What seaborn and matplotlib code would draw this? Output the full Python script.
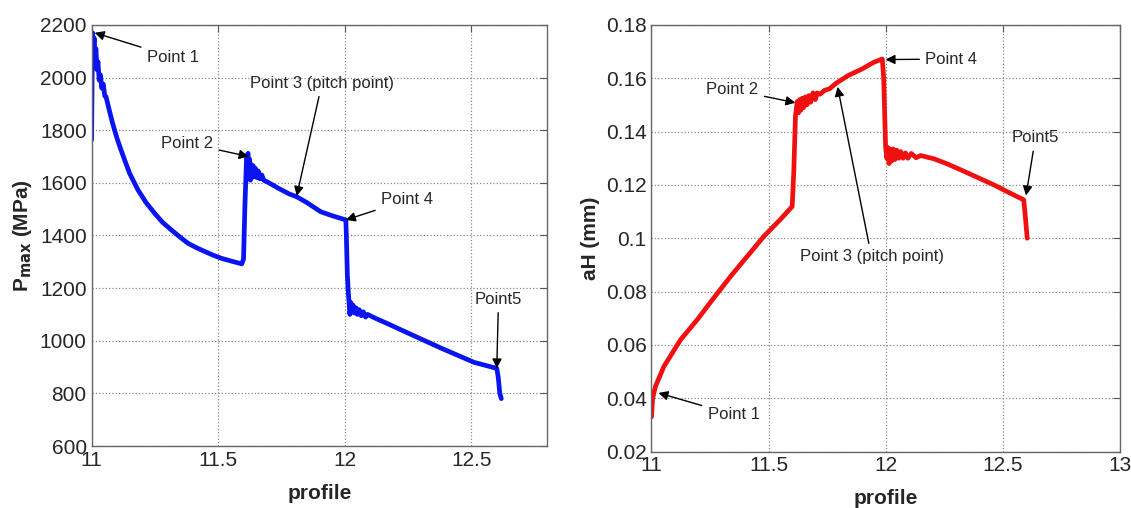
import matplotlib
matplotlib.use("Agg")
import matplotlib.pyplot as plt
import seaborn as sns
import pandas as pd

# contact pressure along the profile (left panel)
p_x = [11.000, 11.002, 11.004, 11.007, 11.010, 11.013, 11.017, 11.021, 11.025, 11.030,
       11.035, 11.040, 11.046, 11.052, 11.057, 11.070, 11.083, 11.10, 11.116, 11.133,
       11.15, 11.183, 11.215, 11.249, 11.28, 11.315, 11.35, 11.381, 11.415, 11.447,
       11.48, 11.513, 11.55, 11.593, 11.600, 11.605, 11.612, 11.618,
       11.621, 11.624, 11.627, 11.630, 11.634, 11.638, 11.642, 11.647, 11.652, 11.658,
       11.665, 11.672, 11.68, 11.70, 11.74, 11.78, 11.81, 11.85, 11.905, 11.95,
       12.004, 12.006, 12.010, 12.014, 12.017, 12.020, 12.024, 12.028, 12.033, 12.038,
       12.044, 12.050, 12.057, 12.065, 12.073, 12.082, 12.09, 12.115, 12.18, 12.25,
       12.38, 12.51, 12.60, 12.606, 12.612, 12.618]
p_max = [1763, 2000, 2170, 2110, 2150, 2080, 2110, 2030, 2060, 1990,
         2010, 1960, 1975, 1930, 1927, 1875, 1826, 1770, 1725, 1680,
         1636, 1573, 1525, 1484, 1450, 1421, 1393, 1370, 1353, 1339,
         1325, 1313, 1303, 1292, 1310, 1500, 1700, 1712,
         1620, 1690, 1610, 1670, 1620, 1665, 1625, 1655, 1620, 1645,
         1615, 1630, 1610, 1600, 1578, 1558, 1547, 1525, 1490, 1475,
         1459, 1400, 1250, 1180, 1142, 1100, 1145, 1110, 1135, 1105,
         1125, 1100, 1118, 1095, 1110, 1090, 1100, 1088, 1060, 1029,
         972, 918, 895, 860, 800, 780]

# half width of contact band (right panel)
a_x = [11.000, 11.005, 11.017, 11.053, 11.124, 11.195, 11.266, 11.338, 11.409, 11.48,
       11.55, 11.601, 11.608, 11.615, 11.623, 11.628, 11.633, 11.638, 11.644, 11.650,
       11.657, 11.664, 11.672, 11.680, 11.690, 11.70, 11.708, 11.72, 11.74, 11.76,
       11.79, 11.84, 11.90, 11.95, 11.986, 11.992, 12.000, 12.005, 12.010, 12.015,
       12.020, 12.026, 12.032, 12.040, 12.048, 12.056, 12.065, 12.075, 12.085, 12.095,
       12.11, 12.13, 12.15, 12.206, 12.26, 12.32, 12.40, 12.463, 12.53, 12.59,
       12.595, 12.605]
a_h = [0.033, 0.040, 0.0444, 0.0519, 0.0619, 0.0694, 0.0776, 0.0857, 0.0932, 0.1007,
       0.107, 0.1119, 0.125, 0.1457, 0.1513, 0.147, 0.152, 0.148, 0.1525, 0.149,
       0.153, 0.150, 0.1535, 0.151, 0.1545, 0.152, 0.1545, 0.154, 0.1555, 0.156,
       0.1582, 0.161, 0.1635, 0.166, 0.1672, 0.160, 0.1345, 0.130, 0.134, 0.128,
       0.1335, 0.129, 0.1335, 0.1295, 0.133, 0.130, 0.1325, 0.1300, 0.132, 0.130,
       0.1318, 0.1302, 0.131, 0.1298, 0.128, 0.1257, 0.1225, 0.120, 0.117, 0.1144,
       0.110, 0.100]

p_ticks_y = [600, 800, 1000, 1200, 1400, 1600, 1800, 2000, 2200]
p_ticks_x = [11, 11.5, 12, 12.5]
a_ticks_y = [0.02, 0.04, 0.06, 0.08, 0.1, 0.12, 0.14, 0.16, 0.18]
a_ticks_x = [11, 11.5, 12, 12.5, 13]

# annotation: label, arrow tip (x, y), text position (x, y), alignment
p_notes = [("Point 1", (11.012, 2170), (11.218, 2078), "left"),
           ("Point 2", (11.62, 1700), (11.48, 1751), "right"),
           ("Point 3 (pitch point)", (11.81, 1550), (11.91, 1979), "center"),
           ("Point 4", (12.004, 1459), (12.143, 1535), "left"),
           ("Point5", (12.60, 895), (12.607, 1158), "center")]
a_notes = [("Point 1", (11.03, 0.042), (11.24, 0.0338), "left"),
           ("Point 2", (11.615, 0.1508), (11.457, 0.1557), "right"),
           ("Point 3 (pitch point)", (11.795, 0.1568), (11.94, 0.093), "center"),
           ("Point 4", (12.0, 0.167), (12.17, 0.1672), "left"),
           ("Point5", (12.60, 0.116), (12.64, 0.1377), "center")]

sns.set_style("white")
plt.rcParams['font.family'] = ['Liberation Sans', 'DejaVu Sans']

fig = plt.figure(figsize=(11.31, 5.08), dpi=100)
ax1 = fig.add_axes([0.081, 0.122, 0.403, 0.829])
ax2 = fig.add_axes([0.576, 0.111, 0.414, 0.840])


def style_axis(ax, xt, yt, xlim, ylim):
    ax.set_xlim(*xlim)
    ax.set_ylim(*ylim)
    ax.set_xticks(xt)
    ax.set_yticks(yt)
    ax.set_xticklabels([f"{v:g}" for v in xt])
    ax.set_yticklabels([f"{v:g}" for v in yt])
    ax.grid(True, linestyle=":", color="#888888", linewidth=0.9)
    ax.tick_params(direction="in", top=True, right=True, length=5, labelsize=15,
                   color="#555555")
    for s in ax.spines.values():
        s.set_color("#666666")
        s.set_linewidth(1.0)


def annotate(ax, notes):
    for label, tip, pos, ha in notes:
        ax.annotate(label, xy=tip, xytext=pos, ha=ha, va="center", fontsize=12,
                    arrowprops=dict(arrowstyle="-|>", color="black", lw=1.0,
                                    mutation_scale=14, shrinkA=2, shrinkB=0))


df_p = pd.DataFrame({"profile": p_x, "Pmax": p_max})
df_a = pd.DataFrame({"profile": a_x, "aH": a_h})

sns.lineplot(data=df_p, x="profile", y="Pmax", ax=ax1, color="#0a14f0",
             linewidth=3.4, sort=False, estimator=None)
sns.lineplot(data=df_a, x="profile", y="aH", ax=ax2, color="#f01010",
             linewidth=3.4, sort=False, estimator=None)

style_axis(ax1, p_ticks_x, p_ticks_y, (11, 12.8), (600, 2200))
style_axis(ax2, a_ticks_x, a_ticks_y, (11, 13), (0.02, 0.18))

ax1.set_xlabel("profile", fontsize=15, fontweight="bold", labelpad=10)
ax1.set_ylabel(r"P$_{\mathbf{max}}$ (MPa)", fontsize=15, fontweight="bold", labelpad=4)
ax2.set_xlabel("profile", fontsize=15, fontweight="bold", labelpad=10)
ax2.set_ylabel("aH (mm)", fontsize=15, fontweight="bold", labelpad=4)

annotate(ax1, p_notes)
annotate(ax2, a_notes)

fig.savefig("out.png", dpi=100)
